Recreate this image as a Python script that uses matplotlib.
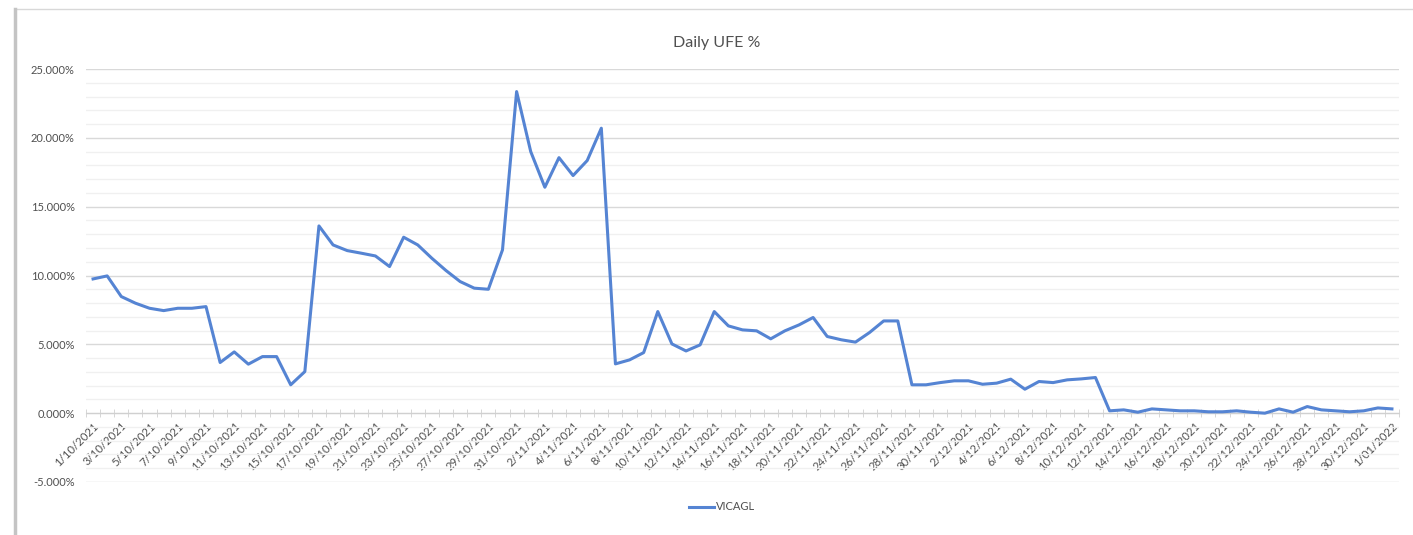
import numpy as np
import matplotlib.pyplot as plt
import matplotlib.ticker as mticker
from matplotlib.patches import Rectangle
import datetime as dt

plt.rcParams['font.family'] = ['Lato', 'DejaVu Sans']

# daily values, 1/10/2021 .. 1/01/2022 (percent)
start = dt.date(2021, 10, 1)
ufe = [9.75, 9.97, 8.47, 7.99, 7.62, 7.45, 7.62, 7.62, 7.74, 3.68,
       4.45, 3.56, 4.11, 4.11, 2.06, 3.02, 13.6, 12.22, 11.81, 11.62,
       11.42, 10.65, 12.78, 12.22, 11.25, 10.36, 9.56, 9.08, 9.0, 11.86,
       23.36, 19.0, 16.41, 18.56, 17.26, 18.35, 20.7, 3.58, 3.87, 4.40,
       7.38, 5.03, 4.52, 4.96, 7.38, 6.34, 6.05, 5.98, 5.40, 5.98,
       6.41, 6.95, 5.57, 5.33, 5.16, 5.86, 6.70, 6.70, 2.06, 2.06,
       2.22, 2.35, 2.35, 2.10, 2.18, 2.47, 1.74, 2.30, 2.22, 2.42,
       2.49, 2.59, 0.17, 0.24, 0.07, 0.31, 0.24, 0.17, 0.17, 0.10,
       0.10, 0.17, 0.07, 0.0, 0.31, 0.07, 0.48, 0.24, 0.17, 0.10,
       0.17, 0.38, 0.31]
dates = [start + dt.timedelta(days=i) for i in range(len(ufe))]
labels = [f"{d.day}/{d.month:02d}/{d.year}" for d in dates]
series_name = "VICAGL"

W, H = 1413, 535
fig = plt.figure(figsize=(W / 100, H / 100), dpi=100)
ax = fig.add_axes([86 / W, 1 - 482 / H, (1399 - 86) / W, (482 - 69) / H])

# chart frame (screenshot border)
fig.patches.append(Rectangle((15 / W, -0.05), 1.1, 1 - 9 / H + 0.05,
                             transform=fig.transFigure, fill=False,
                             edgecolor='#d8d8d8', lw=1.0))
fig.add_artist(plt.Line2D([15 / W, 15 / W], [0, 1 - 9 / H], transform=fig.transFigure,
                          color='#c4c4c4', lw=2.5))

txt = '#505050'
x = np.arange(len(ufe))
ax.plot(x, ufe, color='#5584d3', lw=2.2, label=series_name, zorder=3)

ax.set_xlim(-0.5, len(ufe) - 0.5)
ax.set_ylim(-5, 25)
ax.yaxis.set_major_locator(mticker.MultipleLocator(5))
ax.yaxis.set_minor_locator(mticker.MultipleLocator(1))
ax.yaxis.set_major_formatter(mticker.FuncFormatter(lambda v, p: f"{v:.3f}%"))
ax.grid(axis='y', which='major', color='#d9d9d9', lw=1.0, zorder=0)
ax.grid(axis='y', which='minor', color='#f0f0f0', lw=1.0, zorder=0)
ax.tick_params(axis='y', which='both', length=0, labelsize=8, labelcolor=txt, pad=8)

for s in ['top', 'right', 'left']:
    ax.spines[s].set_visible(False)
ax.spines['bottom'].set_position(('data', 0))
ax.spines['bottom'].set_color('#d0d0d0')
ax.spines['bottom'].set_zorder(2)

ax.set_xticks(x[::2])
ax.set_xticklabels(labels[::2], rotation=45, ha='right', va='top', rotation_mode='anchor')
ax.set_xticks(np.arange(-0.5, len(ufe)), minor=True)
ax.tick_params(axis='x', which='major', length=0, labelsize=8.2, labelcolor=txt, pad=5)
ax.tick_params(axis='x', which='minor', length=6, direction='inout', color='#d0d0d0')

fig.text(717 / W, 1 - 43 / H, "Daily UFE %", ha='center', va='center',
         fontsize=11.5, color=txt)

fig.legend(loc='center', bbox_to_anchor=(722 / W, 1 - 507 / H), frameon=False,
           fontsize=8, labelcolor=txt, handlelength=2.2, handletextpad=0.2)

fig.savefig('out.png', dpi=100, facecolor='white')
